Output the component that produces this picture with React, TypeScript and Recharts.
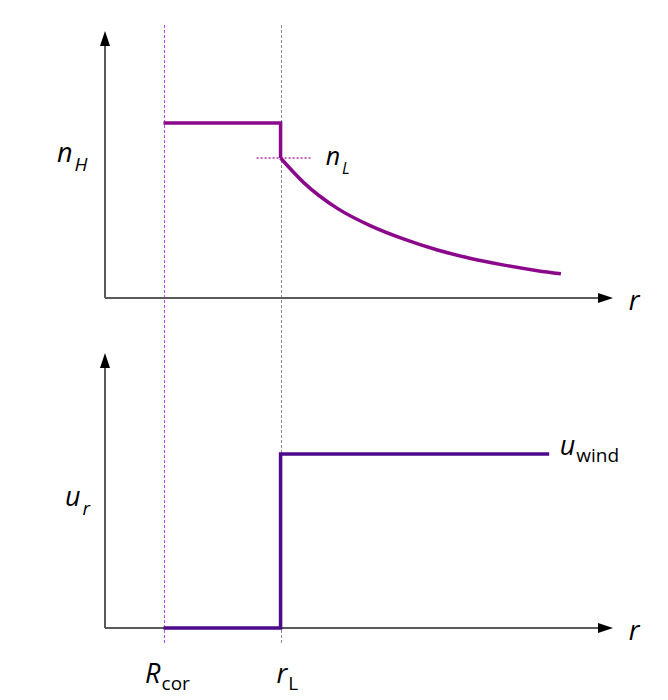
import { LineChart, Line, XAxis, YAxis, ReferenceLine, ReferenceDot } from 'recharts';

// radius in arbitrary units: R_cor = 1, r_L = 3
const R_COR = 1;
const R_L = 3;
const R_MAX = 8.68;

// hydrogen density n_H(r): plateau inside r_L, then the drop
const plateauR = [1, 3, 3];
const plateauN = [5, 5, 4];
// decaying tail outside r_L
const tailR = [3, 3.4, 3.97, 4.54, 5.11, 5.68, 6.25, 6.82, 7.39, 7.79];
const tailN = [4, 3.29, 2.56, 2.06, 1.68, 1.37, 1.13, 0.94, 0.78, 0.69];
const N_L = 4;
const N_TOP = 7.63;

// radial velocity u_r(r)
const velocityR = [1, 3, 3, 7.59];
const velocityU = [0, 0, 1, 1];
const U_TOP = 1.58;

const plateauData = plateauR.map((r, i) => ({ r, n: plateauN[i] }));
const tailData = tailR.map((r, i) => ({ r, n: tailN[i] }));
const velocityData = velocityR.map((r, i) => ({ r, u: velocityU[i] }));

const FONT = '"Open Sans", Lato, sans-serif';
const AXIS = '#5a5a5a';
const DENSITY = '#8b088b';

const Arrow = (p: any) => {
  const { x1, y1, x2, y2 } = p;
  const horizontal = Math.abs(y2 - y1) < Math.abs(x2 - x1);
  const len = 15;
  const half = 5;
  if (horizontal) {
    return (
      <g>
        <line x1={x1} y1={y1} x2={x2 - len + 1} y2={y2} stroke={AXIS} strokeWidth={2} />
        <polygon points={`${x2},${y2} ${x2 - len},${y2 - half} ${x2 - len},${y2 + half}`} fill="#000" />
      </g>
    );
  }
  return (
    <g>
      <line x1={x1} y1={y1} x2={x2} y2={y2 + len - 1} stroke={AXIS} strokeWidth={2} />
      <polygon points={`${x2},${y2} ${x2 - half},${y2 + len} ${x2 + half},${y2 + len}`} fill="#000" />
    </g>
  );
};

const Dashed = (color: string) => (p: any) => (
  <line
    x1={Math.round(p.x1) + 0.5}
    y1={p.y1}
    x2={Math.round(p.x2) + 0.5}
    y2={p.y2}
    stroke={color}
    strokeWidth={1}
    strokeDasharray="3 2"
    shapeRendering="crispEdges"
  />
);

const label = (main: string, sub: string, subItalic: boolean, size = 27, subSize = 19) => (p: any) => (
  <text x={p.cx} y={p.cy} fontFamily={FONT} fontSize={size} fill="#000">
    <tspan fontStyle="italic">{main}</tspan>
    {sub ? (
      <tspan fontSize={subSize} dy={subItalic ? 9 : 7} dx={subItalic ? 2 : 1} fontStyle={subItalic ? 'italic' : 'normal'}>
        {sub}
      </tspan>
    ) : null}
  </text>
);

export default function App() {
  return (
    <div style={{ position: 'absolute', top: 0, left: 0, width: 668, height: 700, background: '#fff' }}>
      <LineChart width={668} height={700} margin={{ top: 25, right: 55, bottom: 57, left: 105 }}>
        <XAxis type="number" dataKey="r" domain={[0, R_MAX]} allowDataOverflow hide />
        {/* top panel: 35 px per unit, zero at y=298 */}
        <YAxis yAxisId="n" type="number" domain={[-9.857, 7.8]} allowDataOverflow hide />
        {/* bottom panel: 174 px per unit, zero at y=628 */}
        <YAxis yAxisId="u" type="number" domain={[-0.0862, 3.466]} allowDataOverflow hide />

        <ReferenceLine yAxisId="n" x={R_COR} shape={Dashed('#b046ee')} />
        <ReferenceLine yAxisId="n" x={R_L} shape={Dashed('#888888')} />

        <ReferenceLine yAxisId="n" ifOverflow="visible" segment={[{ x: 0, y: 0 }, { x: R_MAX, y: 0 }]} shape={Arrow} />
        <ReferenceLine yAxisId="n" ifOverflow="visible" segment={[{ x: 0, y: 0 }, { x: 0, y: N_TOP }]} shape={Arrow} />
        <ReferenceLine yAxisId="u" ifOverflow="visible" segment={[{ x: 0, y: 0 }, { x: R_MAX, y: 0 }]} shape={Arrow} />
        <ReferenceLine yAxisId="u" ifOverflow="visible" segment={[{ x: 0, y: 0 }, { x: 0, y: U_TOP }]} shape={Arrow} />

        <ReferenceLine
          yAxisId="n"
          ifOverflow="visible"
          segment={[{ x: 2.59, y: N_L }, { x: 3.51, y: N_L }]}
          stroke="#b02fb0"
          strokeWidth={1.5}
          strokeDasharray="2 2"
        />

        <Line
          yAxisId="n"
          data={plateauData}
          dataKey="n"
          type="linear"
          stroke={DENSITY}
          strokeWidth={3.5}
          strokeLinejoin="miter"
          dot={false}
          isAnimationActive={false}
        />
        <Line
          yAxisId="n"
          data={tailData}
          dataKey="n"
          type="monotone"
          stroke={DENSITY}
          strokeWidth={3.5}
          dot={false}
          isAnimationActive={false}
        />
        <Line
          yAxisId="u"
          data={velocityData}
          dataKey="u"
          type="linear"
          stroke="#4c0a8a"
          strokeWidth={3.5}
          strokeLinejoin="miter"
          dot={false}
          isAnimationActive={false}
        />

        <ReferenceDot yAxisId="n" x={-0.82} y={3.886} r={0} ifOverflow="visible" shape={label('n', 'H', true)} />
        <ReferenceDot yAxisId="n" x={3.77} y={3.8} r={0} ifOverflow="visible" shape={label('n', 'L', true, 25, 16)} />
        <ReferenceDot yAxisId="n" x={8.95} y={-0.343} r={0} ifOverflow="visible" shape={label('r', '', false)} />
        <ReferenceDot yAxisId="u" x={-0.685} y={0.701} r={0} ifOverflow="visible" shape={label('u', 'r', true)} />
        <ReferenceDot yAxisId="u" x={7.77} y={0.994} r={0} ifOverflow="visible" shape={label('u', 'wind', false, 27, 19)} />
        <ReferenceDot yAxisId="u" x={8.95} y={-0.069} r={0} ifOverflow="visible" shape={label('r', '', false)} />
        <ReferenceDot yAxisId="u" x={0.685} y={-0.316} r={0} ifOverflow="visible" shape={label('R', 'cor', false)} />
        <ReferenceDot yAxisId="u" x={2.93} y={-0.316} r={0} ifOverflow="visible" shape={label('r', 'L', false)} />
      </LineChart>
    </div>
  );
}
